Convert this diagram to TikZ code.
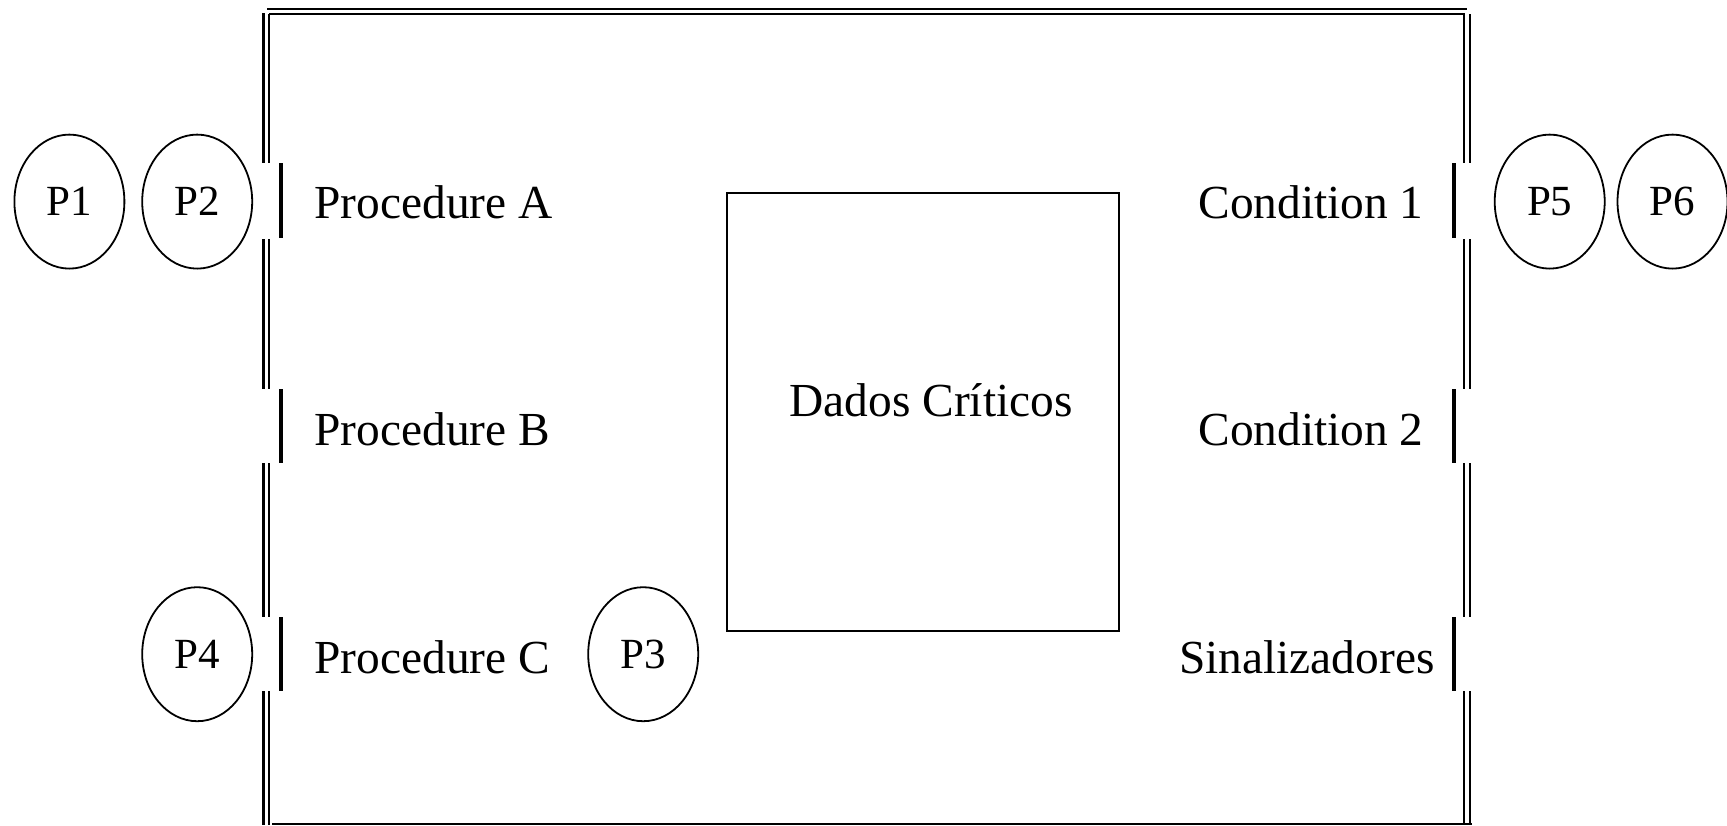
\documentclass[tikz,border=0pt]{standalone}
\usepackage{fontspec}
\setmainfont{Liberation Serif}
\usetikzlibrary{shapes.geometric}
\begin{document}
\begin{tikzpicture}[x=0.5pt,y=-0.5pt,
  frameline/.style={line width=1.25pt},
  portbar/.style={line width=2pt},
  proc/.style={draw, ellipse, line width=0.9pt, minimum width=55pt, minimum height=67pt, inner sep=0pt, font=\fontsize{21.5}{21.5}\selectfont},
  lbl/.style={inner sep=0pt, font=\fontsize{23.7}{23.7}\selectfont},
  databox/.style={draw, rectangle, line width=0.8pt, minimum width=196pt, minimum height=219pt, inner sep=0pt}
]
\useasboundingbox (0,0) rectangle (1727,825);
% top double line
\draw[frameline] (267,9) -- (1467,9);
\draw[frameline] (269,14) -- (1464,14);
% bottom line
\draw[line width=0.8pt] (272,824) -- (1472,824);
% vertical double lines with gaps
\foreach \xa/\xb/\ya in {263.5/269/13, 1464/1470/13}{
  \draw[frameline] (\xa,\ya) -- (\xa,163) (\xa,239) -- (\xa,389) (\xa,463) -- (\xa,617) (\xa,691) -- (\xa,825);
  \draw[frameline] (\xb,14) -- (\xb,163) (\xb,239) -- (\xb,389) (\xb,463) -- (\xb,617) (\xb,691) -- (\xb,825);
}
% port bars
\foreach \bx in {281,1454}{
  \draw[portbar] (\bx,163) -- (\bx,238) (\bx,389) -- (\bx,463) (\bx,617) -- (\bx,691);
}
% processes
\node[proc] (p1) at (69.4,201.6) {P1};
\node[proc] (p2) at (197.2,201.6) {P2};
\node[proc] (p4) at (197.2,654.2) {P4};
\node[proc] (p3) at (643.2,654.2) {P3};
\node[proc] (p5) at (1549.7,201.6) {P5};
\node[proc] (p6) at (1672.5,201.6) {P6};
% critical data
\node[databox] (box) at (923,412) {};
\node[lbl] (dados) at (931,400) {Dados Críticos};
% labels
\node[lbl, anchor=west] (pa) at (314,202) {Procedure A};
\node[lbl, anchor=west] (pb) at (314,429.5) {Procedure B};
\node[lbl, anchor=west] (pc) at (314,657.5) {Procedure C};
\node[lbl, anchor=east] (c1) at (1424,202) {Condition 1};
\node[lbl, anchor=east] (c2) at (1424,429.5) {Condition 2};
\node[lbl, anchor=east] (sn) at (1435,657.5) {Sinalizadores};
\end{tikzpicture}
\end{document}
